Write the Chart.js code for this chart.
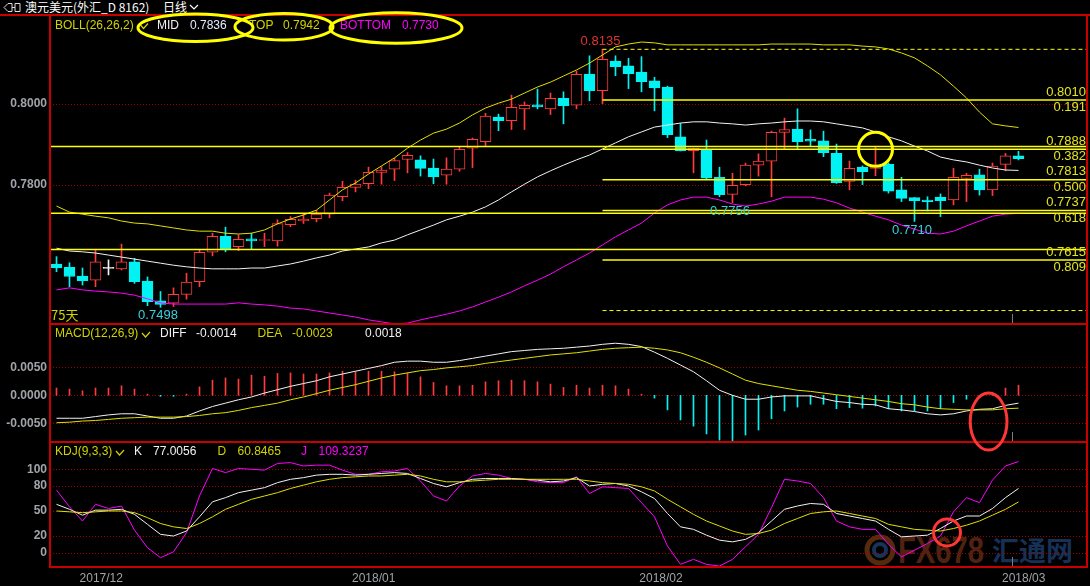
<!DOCTYPE html>
<html>
<head>
<meta charset="utf-8">
<script src="https://cdn.jsdelivr.net/npm/chart.js@4/dist/chart.umd.min.js"></script>
<style>
html, body { margin: 0; padding: 0; background: #000; }
#wrap { position: relative; width: 1090px; height: 586px; overflow: hidden; background: #000; }
canvas { position: absolute; left: 0; z-index: 2; }
#title { position: absolute; left: 0; top: 0; width: 1090px; height: 14px; color: #fff;
  font: 12px "Noto Sans CJK SC", sans-serif; line-height: 14px; white-space: nowrap; }
#title span { position: absolute; top: 0; }
#topline { position: absolute; left: 0; top: 14px; width: 1090px; height: 2px; background: #c80000; z-index: 3; }
#wm { position: absolute; left: 0; top: 0; z-index: 1; }
#marks { position: absolute; left: 0; top: 0; z-index: 5; pointer-events: none; }
</style>
</head>
<body>
<div id="wrap">
  <div id="title">
    <svg style="position:absolute;left:3px;top:2px" width="18" height="11">
      <path d="M1 5.5 L5 1.5 H9 V9.5 H5 Z M9 5.5 H12 M12 1.5 H17 V9.5 H12 Z" stroke="#ddd" fill="none" stroke-width="1"/>
    </svg>
    <span style="left:25px">澳元美元(外汇_D 8162)</span>
    <span style="left:163px">日线</span>
    <svg style="position:absolute;left:189px;top:3px" width="10" height="8">
      <path d="M1 2 L5 6 L9 2" stroke="#fff" fill="none" stroke-width="1.2"/>
    </svg>
  </div>
  <div id="topline"></div>
  <svg id="wm" width="1090" height="586">
    <circle cx="880" cy="550" r="13" stroke="#7a3c14" stroke-width="5" fill="none" opacity="0.7"/>
    <circle cx="880" cy="550" r="6" stroke="#1e3f6e" stroke-width="4" fill="none" opacity="0.8"/>
    <text x="898" y="563" font-family="Liberation Sans, Arial" font-weight="bold" font-size="36"
      textLength="86" lengthAdjust="spacingAndGlyphs" fill="#5e2812" opacity="0.85">FX678</text>
    <text x="992" y="561" font-family="Noto Sans CJK SC" font-weight="bold" font-size="27"
      textLength="81" lengthAdjust="spacingAndGlyphs" fill="#1c3a66" opacity="0.85">汇通网</text>
  </svg>
  <canvas id="cMain" width="1090" height="310" style="top:15px"></canvas>
  <canvas id="cMacd" width="1090" height="118" style="top:325px"></canvas>
  <canvas id="cKdj" width="1090" height="143" style="top:443px"></canvas>
  <svg id="marks" width="1090" height="586"></svg>
</div>
<script>
// ---- price candles (AUD/USD daily) ----
const openP = [0.7605,0.7597,0.7575,0.7565,0.7594,0.7593,0.7610,0.7563,0.7514,0.7508,
  0.7530,0.7561,0.7634,0.7673,0.7648,0.7667,0.7663,0.7662,0.7702,0.7711,
  0.7717,0.7728,0.7771,0.7794,0.7803,0.7831,0.7839,0.7863,0.7862,0.7842,
  0.7824,0.7839,0.7891,0.7907,0.7968,0.7959,0.7988,0.7998,0.7988,0.8014,
  0.7997,0.8074,0.8033,0.8106,0.8094,0.8079,0.8057,0.8042,0.7919,0.7885,
  0.7886,0.7819,0.7777,0.7801,0.7849,0.7859,0.7930,0.7938,0.7913,0.7909,
  0.7878,0.7809,0.7844,0.7841,0.7851,0.7788,0.7769,0.7763,0.7770,0.7763,
  0.7816,0.7825,0.7788,0.7851,0.7872];
const highP = [0.7623,0.7608,0.7595,0.7641,0.7615,0.7654,0.7619,0.7573,0.7537,0.7546,
  0.7582,0.7640,0.7681,0.7696,0.7677,0.7681,0.7681,0.7714,0.7722,0.7728,
  0.7737,0.7780,0.7809,0.7812,0.7844,0.7845,0.7866,0.7880,0.7872,0.7864,
  0.7867,0.7893,0.7916,0.7977,0.7975,0.8022,0.8005,0.8037,0.8027,0.8030,
  0.8081,0.8119,0.8135,0.8119,0.8113,0.8117,0.8066,0.8044,0.7952,0.7891,
  0.7911,0.7844,0.7829,0.7854,0.7877,0.7933,0.7965,0.7988,0.7936,0.7933,
  0.7901,0.7859,0.7847,0.7895,0.7854,0.7819,0.7769,0.7771,0.7778,0.7841,
  0.7829,0.7839,0.7854,0.7878,0.7883];
const lowP = [0.7586,0.7549,0.7553,0.7549,0.7578,0.7590,0.7557,0.7502,0.7498,0.7500,
  0.7518,0.7549,0.7625,0.7635,0.7638,0.7642,0.7648,0.7649,0.7697,0.7705,
  0.7709,0.7719,0.7761,0.7783,0.7791,0.7802,0.7811,0.7830,0.7822,0.7803,
  0.7802,0.7834,0.7843,0.7896,0.7934,0.7937,0.7937,0.7988,0.7974,0.7951,
  0.7988,0.8008,0.8001,0.8070,0.8038,0.8030,0.7983,0.7917,0.7884,0.7830,
  0.7814,0.7771,0.7756,0.7798,0.7822,0.7771,0.7889,0.7888,0.7896,0.7870,
  0.7804,0.7788,0.7801,0.7823,0.7780,0.7759,0.7710,0.7736,0.7722,0.7751,
  0.7759,0.7775,0.7774,0.7835,0.7862];
const closeP = [0.7595,0.7574,0.7564,0.7610,0.7594,0.7610,0.7561,0.7512,0.7505,0.7530,
  0.7560,0.7634,0.7673,0.7642,0.7666,0.7662,0.7665,0.7705,0.7715,0.7716,
  0.7728,0.7775,0.7794,0.7802,0.7831,0.7837,0.7860,0.7873,0.7841,0.7820,
  0.7839,0.7888,0.7913,0.7970,0.7959,0.7992,0.7997,0.7993,0.8014,0.7996,
  0.8073,0.8033,0.8110,0.8092,0.8075,0.8055,0.8040,0.7924,0.7885,0.7891,
  0.7817,0.7776,0.7799,0.7849,0.7859,0.7930,0.7937,0.7907,0.7908,0.7880,
  0.7806,0.7841,0.7833,0.7849,0.7785,0.7767,0.7761,0.7759,0.7761,0.7819,
  0.7824,0.7788,0.7847,0.7872,0.7865];

// ---- BOLL(26,26,2) ----
const bollUp = [0.7748,0.7733,0.7728,0.7723,0.7719,0.7711,0.7706,0.7704,0.7699,0.7694,
  0.7689,0.7686,0.7686,0.7681,0.7679,0.7681,0.7689,0.7704,0.7716,0.7726,
  0.7738,0.7763,0.7788,0.7805,0.7827,0.7847,0.7867,0.7891,0.7911,0.7928,
  0.7938,0.7953,0.7973,0.7990,0.8002,0.8012,0.8027,0.8042,0.8054,0.8069,
  0.8084,0.8101,0.8121,0.8141,0.8148,0.8153,0.8151,0.8146,0.8146,0.8146,
  0.8146,0.8146,0.8146,0.8146,0.8146,0.8148,0.8148,0.8148,0.8148,0.8146,
  0.8146,0.8146,0.8143,0.8141,0.8136,0.8126,0.8114,0.8094,0.8072,0.8044,
  0.8015,0.7980,0.7951,0.7946,0.7942];
const bollMid = [0.7644,0.7637,0.7635,0.7632,0.7627,0.7622,0.7617,0.7612,0.7607,0.7602,
  0.7598,0.7595,0.7593,0.7593,0.7593,0.7595,0.7595,0.7600,0.7605,0.7612,
  0.7620,0.7627,0.7637,0.7642,0.7647,0.7657,0.7664,0.7677,0.7689,0.7701,
  0.7714,0.7723,0.7733,0.7746,0.7763,0.7783,0.7802,0.7820,0.7835,0.7849,
  0.7862,0.7874,0.7889,0.7904,0.7919,0.7931,0.7943,0.7948,0.7953,0.7956,
  0.7956,0.7953,0.7951,0.7948,0.7951,0.7953,0.7956,0.7958,0.7958,0.7956,
  0.7951,0.7946,0.7941,0.7931,0.7919,0.7909,0.7896,0.7884,0.7869,0.7862,
  0.7857,0.7849,0.7842,0.7837,0.7836];
const bollLow = [0.7541,0.7546,0.7541,0.7538,0.7536,0.7533,0.7528,0.7519,0.7509,0.7506,
  0.7506,0.7506,0.7506,0.7506,0.7509,0.7506,0.7504,0.7501,0.7496,0.7494,
  0.7489,0.7484,0.7479,0.7474,0.7467,0.7462,0.7457,0.7459,0.7467,0.7474,
  0.7481,0.7489,0.7499,0.7511,0.7523,0.7536,0.7551,0.7565,0.7580,0.7598,
  0.7615,0.7632,0.7652,0.7672,0.7689,0.7706,0.7731,0.7751,0.7763,0.7770,
  0.7770,0.7763,0.7753,0.7748,0.7753,0.7760,0.7770,0.7770,0.7770,0.7765,
  0.7756,0.7743,0.7733,0.7723,0.7714,0.7701,0.7691,0.7681,0.7679,0.7686,
  0.7699,0.7711,0.7723,0.7728,0.7730];

// ---- MACD(12,26,9) ----
const macdDiff = [-0.0041,-0.0041,-0.0041,-0.0038,-0.0035,-0.0033,-0.0033,-0.0037,-0.0041,-0.0041,
  -0.0037,-0.0028,-0.0020,-0.0014,-0.0008,-0.0003,0.0004,0.0010,0.0016,0.0021,
  0.0026,0.0033,0.0038,0.0043,0.0048,0.0053,0.0059,0.0061,0.0061,0.0059,
  0.0059,0.0062,0.0066,0.0070,0.0074,0.0078,0.0080,0.0082,0.0083,0.0084,
  0.0086,0.0088,0.0091,0.0093,0.0091,0.0087,0.0077,0.0066,0.0054,0.0042,
  0.0026,0.0009,0.0000,-0.0007,-0.0007,-0.0003,-0.0001,-0.0001,-0.0001,-0.0006,
  -0.0011,-0.0013,-0.0016,-0.0017,-0.0024,-0.0026,-0.0029,-0.0033,-0.0035,-0.0033,
  -0.0028,-0.0025,-0.0024,-0.0018,-0.0014];
const macdDea = [-0.0049,-0.0048,-0.0046,-0.0045,-0.0043,-0.0041,-0.0040,-0.0039,-0.0039,-0.0039,
  -0.0038,-0.0036,-0.0033,-0.0031,-0.0027,-0.0022,-0.0018,-0.0014,-0.0008,-0.0003,
  0.0003,0.0009,0.0014,0.0019,0.0025,0.0031,0.0036,0.0040,0.0044,0.0046,
  0.0049,0.0051,0.0053,0.0057,0.0060,0.0063,0.0066,0.0069,0.0072,0.0074,
  0.0076,0.0079,0.0082,0.0084,0.0085,0.0086,0.0084,0.0081,0.0076,0.0068,
  0.0059,0.0049,0.0038,0.0027,0.0021,0.0017,0.0013,0.0009,0.0007,0.0004,
  0.0001,-0.0002,-0.0005,-0.0008,-0.0011,-0.0015,-0.0017,-0.0021,-0.0024,-0.0025,
  -0.0026,-0.0026,-0.0026,-0.0024,-0.0023];
const macdHist = [0.0013,0.0011,0.0008,0.0013,0.0013,0.0017,0.0011,0.0002,-0.0001,-0.0001,
  0.0002,0.0015,0.0027,0.0031,0.0029,0.0036,0.0034,0.0039,0.0040,0.0038,
  0.0038,0.0040,0.0043,0.0042,0.0043,0.0043,0.0042,0.0040,0.0033,0.0023,
  0.0017,0.0017,0.0018,0.0024,0.0026,0.0027,0.0026,0.0024,0.0020,0.0014,
  0.0018,0.0013,0.0018,0.0017,0.0011,0.0002,-0.0005,-0.0026,-0.0044,-0.0055,
  -0.0069,-0.0080,-0.0082,-0.0071,-0.0062,-0.0042,-0.0028,-0.0021,-0.0016,-0.0016,
  -0.0024,-0.0022,-0.0023,-0.0019,-0.0024,-0.0028,-0.0028,-0.0028,-0.0024,-0.0013,
  -0.0007,-0.0004,0.0004,0.0013,0.0018];

// ---- KDJ(9,3,3) ----
const kdjK = [58,52,45,51,51,52,46,34,22,20, 26,43,61,66,72,75,78,84,88,90,
  93,94,94,93,94,95,96,95,89,83, 79,84,88,89,89,89,88,87,85,86,
  90,80,82,83,80,73,65,47,31,28, 21,15,13,16,24,38,52,56,59,58,
  47,44,41,38,28,19,20,21,29,38, 44,44,53,66,77.0056];
const kdjD = [50,49,48,49,50,50,48,42,35,31, 29,35,43,52,58,64,68,72,77,81,
  85,88,90,91,92,92,93,94,92,88, 85,85,86,87,88,88,88,88,88,88,
  88,86,84,83,82,79,74,64,55,46, 38,32,26,22,23,27,35,41,47,49,
  50,47,44,41,34,31,28,27,26,29, 33,38,45,52,60.8465];
const kdjJ = [75,55,38,58,53,56,27,6,-6,1, 24,68,101,96,101,100,99,107,108,104,
  105,105,99,94,94,97,98,101,86,68, 62,80,92,95,93,89,88,85,84,84,
  91,71,79,78,77,60,43,8,-14,-8, -14,-16,-8,7,22,54,88,86,83,66,
  38,31,28,28,10,-5,3,11,20,49, 66,60,87,104,109.3237];

// ---- drawn levels and axis labels ----
const trendLevels = [0.7895, 0.7730, 0.7641];
const fibLevels = [0.8010, 0.7888, 0.7813, 0.7737, 0.7615];
const fibRatios = ['0.191', '0.382', '0.500', '0.618', '0.809'];
const fibEnds = [0.8135, 0.7490];
const fibStart = 42;
const highMark = 42;
const lowMarks = [8, 52, 66];
const dateTicks = [3.44, 24.4, 46.5, 74.4];
const dateLabels = ['2017/12', '2018/01', '2018/02', '2018/03'];
const priceTicks = [0.78, 0.80];
const macdTicks = [-0.005, 0, 0.005];
const kdjTicks = [0, 20, 50, 80, 100];

const RED = '#ff3c3c', CYAN = '#00f2f2', WHITE = '#f2f2f2', YEL = '#ffff00',
  BOLL_Y = '#e0e000', MAG = '#ff00ff', LEG_Y = '#d2d200', FIB_T = '#e4e41e',
  FRAME = '#c80000', GRID = '#a00000', AXIS = '#a0a4a8';
const FONT = '"Liberation Sans", Arial, sans-serif';

Chart.defaults.font.family = FONT;
Chart.defaults.animation = false;
Chart.defaults.events = [];
Chart.defaults.plugins.legend.display = false;
Chart.defaults.plugins.tooltip.enabled = false;

const X_MIN = -0.5, X_MAX = 79.27;
const idx = openP.map((_, i) => i);
const pts = arr => arr.map((v, i) => ({x: i, y: v}));
const hline = (v, from) => [{x: from, y: v}, {x: X_MAX, y: v}];
const candleColor = i => closeP[i] > openP[i] ? RED : (closeP[i] < openP[i] ? CYAN : WHITE);
const line = (data, color, extra) => Object.assign({type: 'line', data, borderColor: color,
  borderWidth: 1, pointRadius: 0, tension: 0, fill: false, order: 1}, extra || {});
const noPad = s => { s.paddingTop = 0; s.paddingBottom = 0; s.paddingLeft = 0; s.paddingRight = 0; };

function xConf(show) {
  const c = {type: 'linear', min: X_MIN, max: X_MAX, display: show, offset: false,
    grid: {display: false, drawTicks: false, offset: false}, border: {display: false},
    afterFit: s => { noPad(s); if (show) s.height = 18; }};
  if (show) {
    c.afterBuildTicks = s => { s.ticks = dateTicks.map(v => ({value: v})); };
    c.ticks = {color: AXIS, font: {size: 12}, padding: 3, maxRotation: 0, autoSkip: false,
      callback: (v, i) => dateLabels[i]};
  }
  return c;
}
function yConf(min, max, ticks, fmt) {
  return {position: 'left', min, max,
    afterBuildTicks: s => { s.ticks = ticks.map(v => ({value: v})); },
    afterFit: s => { s.width = 50; noPad(s); },
    grid: {display: false, drawTicks: false}, border: {display: false},
    ticks: {color: AXIS, font: {size: 12, weight: 'bold'}, padding: 3, callback: fmt}};
}

function put(ctx, s, x, y, color, align, font) {
  ctx.font = font || '12px ' + FONT;
  ctx.fillStyle = color;
  ctx.textAlign = align || 'left';
  ctx.textBaseline = 'middle';
  ctx.fillText(s, x, y);
}
function chevron(ctx, x, y, color) {
  ctx.strokeStyle = color; ctx.lineWidth = 1.2; ctx.setLineDash([]);
  ctx.beginPath(); ctx.moveTo(x, y - 2); ctx.lineTo(x + 3.5, y + 2); ctx.lineTo(x + 8, y - 3); ctx.stroke();
}

function panel(gridVals, drawText) {
  return {
    id: 'panel',
    beforeDatasetsDraw(chart) {
      const {ctx, chartArea: a, scales: {y}} = chart;
      ctx.save();
      ctx.strokeStyle = GRID; ctx.lineWidth = 1; ctx.setLineDash([1, 2]);
      gridVals.forEach(v => {
        const py = Math.round(y.getPixelForValue(v)) + 0.5;
        ctx.beginPath(); ctx.moveTo(a.left, py); ctx.lineTo(a.right, py); ctx.stroke();
      });
      ctx.restore();
    },
    afterDraw(chart) {
      const {ctx, chartArea: a, scales: {x}} = chart;
      ctx.save();
      // cursor stub at the last bar
      const cx = Math.round(x.getPixelForValue(73.5)) + 0.5;
      ctx.strokeStyle = '#7c7c7c'; ctx.lineWidth = 1;
      ctx.beginPath(); ctx.moveTo(cx, a.bottom - 11); ctx.lineTo(cx, a.bottom - 1); ctx.stroke();
      ctx.strokeStyle = FRAME; ctx.lineWidth = 2; ctx.setLineDash([]);
      ctx.beginPath();
      ctx.moveTo(a.left, a.top); ctx.lineTo(a.left, a.bottom - 1);
      ctx.lineTo(a.right, a.bottom - 1); ctx.lineTo(a.right, a.top);
      ctx.stroke();
      drawText(chart, ctx, a);
      ctx.restore();
    }
  };
}

function mainText(chart, ctx, a) {
  const xs = chart.scales.x, ys = chart.scales.y, n = openP.length - 1;
  put(ctx, 'BOLL(26,26,2)', 55, 10.5, LEG_Y);
  chevron(ctx, 140, 11.5, LEG_Y);
  put(ctx, 'MID', 157, 10.5, WHITE);
  put(ctx, bollMid[n].toFixed(4), 190, 10.5, '#e4ecff');
  put(ctx, 'TOP', 249, 10.5, LEG_Y);
  put(ctx, bollUp[n].toFixed(4), 283, 10.5, LEG_Y);
  put(ctx, 'BOTTOM', 340, 10.5, MAG);
  put(ctx, bollLow[n].toFixed(4), 402, 10.5, MAG);
  const f13 = '13px ' + FONT;
  fibLevels.forEach((v, k) => {
    const py = ys.getPixelForValue(v);
    put(ctx, v.toFixed(4), a.right - 1, py - 8, FIB_T, 'right', f13);
    put(ctx, fibRatios[k], a.right - 1, py + 7.5, FIB_T, 'right', f13);
  });
  put(ctx, highP[highMark].toFixed(4), xs.getPixelForValue(highMark) - 2,
    ys.getPixelForValue(highP[highMark]) - 7.5, '#e03434', 'center', f13);
  lowMarks.forEach(i => {
    put(ctx, lowP[i].toFixed(4), xs.getPixelForValue(i) - 2.5,
      ys.getPixelForValue(lowP[i]) + 8.5, '#38d2dc', 'center', f13);
  });
  put(ctx, openP.length + '天', a.left + 1, a.bottom - 10, LEG_Y, 'left', '13px "Noto Sans CJK SC", sans-serif');
}

function macdText(chart, ctx) {
  const n = macdDiff.length - 1;
  put(ctx, 'MACD(12,26,9)', 55, 9, LEG_Y);
  chevron(ctx, 142, 10, LEG_Y);
  put(ctx, 'DIFF', 160, 9, WHITE);
  put(ctx, macdDiff[n].toFixed(4), 196, 9, WHITE);
  put(ctx, 'DEA', 257.5, 9, LEG_Y);
  put(ctx, macdDea[n].toFixed(4), 292, 9, LEG_Y);
  put(ctx, macdHist[n].toFixed(4), 365, 9, WHITE);
}

function kdjText(chart, ctx) {
  const n = kdjK.length - 1;
  put(ctx, 'KDJ(9,3,3)', 55, 9, LEG_Y);
  chevron(ctx, 116, 10, LEG_Y);
  put(ctx, 'K', 134, 9, WHITE);
  put(ctx, kdjK[n].toFixed(4), 153, 9, WHITE);
  put(ctx, 'D', 217.5, 9, LEG_Y);
  put(ctx, kdjD[n].toFixed(4), 237.5, 9, LEG_Y);
  put(ctx, 'J', 301, 9, MAG);
  put(ctx, kdjJ[n].toFixed(4), 318.5, 9, MAG);
}

const baseOpts = (scales) => ({
  responsive: false, devicePixelRatio: 1,
  layout: {padding: {left: 0, right: 3, top: 0, bottom: 0}, autoPadding: false},
  scales
});

// Main: candles + BOLL + drawn levels
const mainChart = new Chart(document.getElementById('cMain'), {
  type: 'bar',
  data: {datasets: [
    {data: idx.map(i => ({x: i, y: [lowP[i], highP[i]]})), backgroundColor: idx.map(candleColor),
      barThickness: 1, grouped: false, order: 5},
    {data: idx.map(i => ({x: i, y: [openP[i], closeP[i]]})),
      backgroundColor: idx.map(i => closeP[i] > openP[i] ? '#000' : candleColor(i)),
      borderColor: idx.map(candleColor), borderWidth: 1, borderSkipped: false,
      barThickness: 11, minBarLength: 1, grouped: false, order: 4},
    line(pts(bollUp), BOLL_Y, {order: 3}),
    line(pts(bollMid), WHITE, {order: 3}),
    line(pts(bollLow), MAG, {order: 3}),
    ...trendLevels.map(v => line(hline(v, X_MIN), YEL, {borderWidth: 1.5, order: 2})),
    ...fibLevels.map(v => line(hline(v, fibStart), YEL, {borderWidth: 1.5, order: 2})),
    ...fibEnds.map(v => line(hline(v, fibStart), YEL, {borderDash: [4, 3], order: 2}))
  ]},
  options: baseOpts({
    x: xConf(false),
    y: yConf(0.745432, 0.821975, priceTicks, v => v.toFixed(4))
  }),
  plugins: [panel(priceTicks, mainText)]
});

// MACD
const macdChart = new Chart(document.getElementById('cMacd'), {
  type: 'bar',
  data: {datasets: [
    {data: pts(macdHist), backgroundColor: macdHist.map(v => v >= 0 ? RED : CYAN),
      barThickness: 1, minBarLength: 1, order: 3},
    line(pts(macdDiff), WHITE, {order: 2}),
    line(pts(macdDea), BOLL_Y, {order: 1})
  ]},
  options: baseOpts({
    x: xConf(false),
    y: yConf(-0.008518, 0.012554, macdTicks, v => v.toFixed(4))
  }),
  plugins: [panel(macdTicks, macdText)]
});

// KDJ
const kdjChart = new Chart(document.getElementById('cKdj'), {
  type: 'line',
  data: {datasets: [
    line(pts(kdjK), WHITE, {order: 2}),
    line(pts(kdjD), BOLL_Y, {order: 1}),
    line(pts(kdjJ), MAG, {order: 3})
  ]},
  options: baseOpts({
    x: xConf(true),
    y: yConf(-18.35, 131.53, kdjTicks, v => String(v))
  }),
  plugins: [panel(kdjTicks, kdjText)]
});

// hand-drawn highlight marks
const NS = 'http://www.w3.org/2000/svg';
const marks = document.getElementById('marks');
function ell(cx, cy, rx, ry, color) {
  const e = document.createElementNS(NS, 'ellipse');
  [['cx', cx], ['cy', cy], ['rx', rx], ['ry', ry], ['stroke', color], ['stroke-width', 3], ['fill', 'none']]
    .forEach(([k, v]) => e.setAttribute(k, v));
  marks.appendChild(e);
}
ell(195.5, 27.8, 57.5, 13.8, YEL);
ell(284, 26.7, 49, 13.3, YEL);
ell(396, 28, 66, 15.3, YEL);
ell(mainChart.scales.x.getPixelForValue(63), 15 + mainChart.scales.y.getPixelForValue(fibLevels[1]), 17, 17, YEL);
ell(macdChart.scales.x.getPixelForValue(71.7), 325 + macdChart.scales.y.getPixelForValue(-0.0047), 18.4, 28.5, '#ff3636');
ell(kdjChart.scales.x.getPixelForValue(68.5), 443 + kdjChart.scales.y.getPixelForValue(24.2), 13.5, 13.5, '#ff3636');
</script>
</body>
</html>
